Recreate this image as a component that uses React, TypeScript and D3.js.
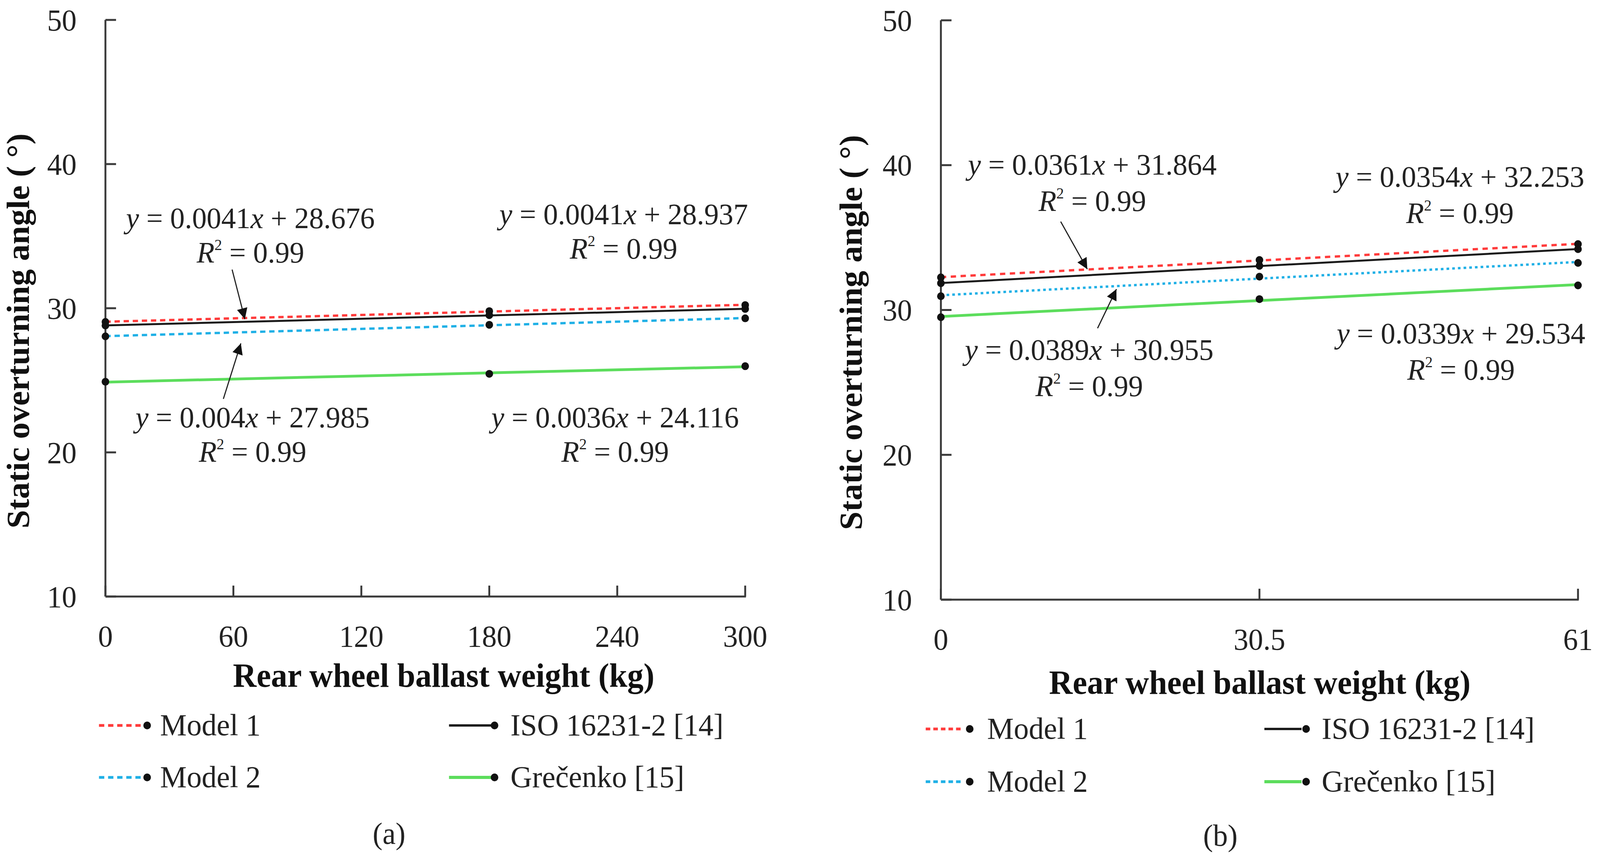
import * as d3 from "d3"

const FONT = "'Liberation Serif', 'Times New Roman', serif"

// series, in legend order
const seriesNames = ["Model 1", "ISO 16231-2 [14]", "Model 2", "Grečenko [15]"]
const seriesColors = ["#ff3b3b", "#1a1a1a", "#1fb0e6", "#5cdd5c"]
const yTicks = [10, 20, 30, 40, 50]

// (a) ballast weights and overturning angles
const ballastA = [0, 180, 300]
const xTicksA = [0, 60, 120, 180, 240, 300]
const model1A = [29.05, 29.8, 30.22]
const isoA = [28.8, 29.52, 29.95]
const model2A = [28.05, 28.85, 29.3]
const grecenkoA = [24.9, 25.45, 25.98]
const slopesA = ["0.0041", "0.0041", "0.004", "0.0036"]
const interceptsA = ["28.676", "28.937", "27.985", "24.116"]

// (b)
const ballastB = [0, 30.5, 61]
const xTicksB = [0, 30.5, 61]
const model1B = [32.25, 33.45, 34.55]
const isoB = [31.85, 33.05, 34.2]
const model2B = [30.95, 32.3, 33.25]
const grecenkoB = [29.5, 30.75, 31.7]
const slopesB = ["0.0361", "0.0354", "0.0389", "0.0339"]
const interceptsB = ["31.864", "32.253", "30.955", "29.534"]

const r2 = "0.99"

const W = 4219
const H = 2204

function fit(xs: number[], ys: number[]) {
  const mx = d3.mean(xs)!
  const my = d3.mean(ys)!
  const sxy = d3.sum(xs, (x, i) => (x - mx) * (ys[i] - my))
  const sxx = d3.sum(xs, (x) => (x - mx) ** 2)
  const b = sxy / sxx
  return { a: my - b * mx, b }
}

interface PanelProps {
  left: number
  right: number
  top: number
  bottom: number
  xDomain: [number, number]
  xTicks: number[]
  xs: number[]
  series: number[][]
  dashes: (string | null)[]
  widths: number[]
  slopes: string[]
  intercepts: string[]
  labels: [number, number][]
  r2Gap: number
  arrows: { from: [number, number]; to: [number, number] }[]
  xTitle: [number, number]
  yTitle: [number, number]
  legend: { cols: number[][]; rows: number[]; dashes: (string | null)[] }
  caption: [number, number, string]
}

function Panel(p: PanelProps) {
  const x = d3.scaleLinear().domain(p.xDomain).range([p.left, p.right])
  const y = d3.scaleLinear().domain([10, 50]).range([p.bottom, p.top])
  const drawOrder = [3, 2, 1, 0]

  return (
    <g>
      {/* axes */}
      <line x1={p.left} x2={p.left} y1={p.top} y2={p.bottom} stroke="#3a3a3a" strokeWidth={5} />
      <line x1={p.left} x2={p.right + 2} y1={p.bottom} y2={p.bottom} stroke="#3a3a3a" strokeWidth={5} />
      {yTicks.map((t) => (
        <g key={"y" + t}>
          <line x1={p.left} x2={p.left + 28} y1={y(t)} y2={y(t)} stroke="#3a3a3a" strokeWidth={5} />
          <text x={p.left - 76} y={y(t)} dy="0.34em" textAnchor="end" fontSize={78} fill="#222">
            {t}
          </text>
        </g>
      ))}
      {p.xTicks.map((t) => (
        <g key={"x" + t}>
          <line x1={x(t)} x2={x(t)} y1={p.bottom} y2={p.bottom - 28} stroke="#3a3a3a" strokeWidth={5} />
          <text x={x(t)} y={p.bottom + 128} textAnchor="middle" fontSize={78} fill="#222">
            {t}
          </text>
        </g>
      ))}

      {/* trend lines */}
      {drawOrder.map((i) => {
        const { a, b } = fit(p.xs, p.series[i])
        return (
          <line
            key={"l" + i}
            x1={x(p.xDomain[0])}
            x2={x(p.xDomain[1])}
            y1={y(a + b * p.xDomain[0])}
            y2={y(a + b * p.xDomain[1])}
            stroke={seriesColors[i]}
            strokeWidth={p.widths[i]}
            strokeDasharray={p.dashes[i] ?? undefined}
          />
        )
      })}
      {drawOrder.map((i) =>
        p.series[i].map((v, j) => <circle key={`d${i}-${j}`} cx={x(p.xs[j])} cy={y(v)} r={10} fill="#111" />)
      )}

      {/* equations */}
      {p.labels.map(([lx, ly], i) => (
        <g key={"eq" + i} fontSize={77} fill="#222" textAnchor="middle">
          <text x={x(lx)} y={y(ly)}>
            <tspan fontStyle="italic">y</tspan>
            {" = " + p.slopes[i]}
            <tspan fontStyle="italic">x</tspan>
            {" + " + p.intercepts[i]}
          </text>
          <text x={x(lx)} y={y(ly) + p.r2Gap}>
            <tspan fontStyle="italic">R</tspan>
            <tspan fontSize={40} dy={-32}>
              2
            </tspan>
            <tspan dy={32}>{" = " + r2}</tspan>
          </text>
        </g>
      ))}
      {p.arrows.map((ar, i) => (
        <line
          key={"ar" + i}
          x1={x(ar.from[0])}
          y1={y(ar.from[1])}
          x2={x(ar.to[0])}
          y2={y(ar.to[1])}
          stroke="#222"
          strokeWidth={3}
          markerEnd="url(#arrowhead)"
        />
      ))}

      {/* titles */}
      <text x={p.xTitle[0]} y={p.xTitle[1]} textAnchor="middle" fontSize={86} fontWeight="bold" fill="#111">
        Rear wheel ballast weight (kg)
      </text>
      <text
        transform={`translate(${p.yTitle[0]},${p.yTitle[1]}) rotate(-90)`}
        textAnchor="middle"
        fontSize={85}
        fontWeight="bold"
        fill="#111"
      >
        Static overturning angle ( °)
      </text>

      {/* legend */}
      {seriesNames.map((name, i) => {
        const col = p.legend.cols[i % 2]
        const ry = p.legend.rows[Math.floor(i / 2)]
        return (
          <g key={"lg" + i}>
            <line
              x1={col[0]}
              x2={col[1]}
              y1={ry}
              y2={ry}
              stroke={seriesColors[i]}
              strokeWidth={p.widths[i] + 1}
              strokeDasharray={p.legend.dashes[i] ?? undefined}
            />
            <circle cx={col[2]} cy={ry} r={10} fill="#111" />
            <text x={col[3]} y={ry + 25} fontSize={79} fill="#222">
              {name}
            </text>
          </g>
        )
      })}
      <text x={p.caption[0]} y={p.caption[1]} textAnchor="middle" fontSize={78} fill="#222">
        {p.caption[2]}
      </text>
    </g>
  )
}

export default function App() {
  return (
    <>
      <style>{"html,body{margin:0;padding:0;overflow:hidden;background:#fff}"}</style>
      <svg
        viewBox={`0 0 ${W} ${H}`}
        preserveAspectRatio="none"
        style={{ position: "fixed", left: 0, top: 0, width: "100vw", height: "100vh", display: "block", background: "#fff" }}
        fontFamily={FONT}
      >
        <defs>
          <marker
            id="arrowhead"
            viewBox="0 0 10 10"
            refX={10}
            refY={5}
            markerUnits="userSpaceOnUse"
            markerWidth={46}
            markerHeight={28}
            orient="auto"
          >
            <path d="M0,0 L10,5 L0,10 z" fill="#111" />
          </marker>
        </defs>
        <Panel
          left={278}
          right={1965}
          top={51}
          bottom={1527}
          xDomain={[0, 300]}
          xTicks={xTicksA}
          xs={ballastA}
          series={[model1A, isoA, model2A, grecenkoA]}
          dashes={["14 10", null, "14 10", null]}
          widths={[6, 5, 6, 7]}
          slopes={slopesA}
          intercepts={interceptsA}
          labels={[
            [68, 35.56],
            [243, 35.83],
            [69, 21.73],
            [239, 21.73],
          ]}
          r2Gap={88}
          arrows={[
            { from: [59.4, 32.68], to: [65.4, 29.24] },
            { from: [55.3, 23.71], to: [63.5, 27.56] },
          ]}
          xTitle={[1170, 1758]}
          yTitle={[76, 847]}
          legend={{
            cols: [
              [261, 384, 388, 422],
              [1184, 1299, 1304, 1346],
            ],
            rows: [1857, 1990],
            dashes: ["14 10", null, "14 10", null],
          }}
          caption={[1026, 2160, "(a)"]}
        />
        <Panel
          left={2481}
          right={4161}
          top={52}
          bottom={1535}
          xDomain={[0, 61]}
          xTicks={xTicksB}
          xs={ballastB}
          series={[model1B, isoB, model2B, grecenkoB]}
          dashes={["14 12", null, "7 8", null]}
          widths={[6, 5, 6, 7]}
          slopes={slopesB}
          intercepts={interceptsB}
          labels={[
            [14.5, 39.34],
            [49.7, 38.51],
            [14.2, 26.56],
            [49.8, 27.69],
          ]}
          r2Gap={93}
          arrows={[
            { from: [11.47, 36.1], to: [14.02, 32.82] },
            { from: [15.0, 28.74], to: [16.81, 31.44] },
          ]}
          xTitle={[3322, 1776]}
          yTitle={[2272, 851]}
          legend={{
            cols: [
              [2441, 2540, 2557, 2603],
              [3334, 3432, 3444, 3485],
            ],
            rows: [1866, 2001],
            dashes: ["12 8", null, "12 8", null],
          }}
          caption={[3218, 2165, "(b)"]}
        />
      </svg>
    </>
  )
}
